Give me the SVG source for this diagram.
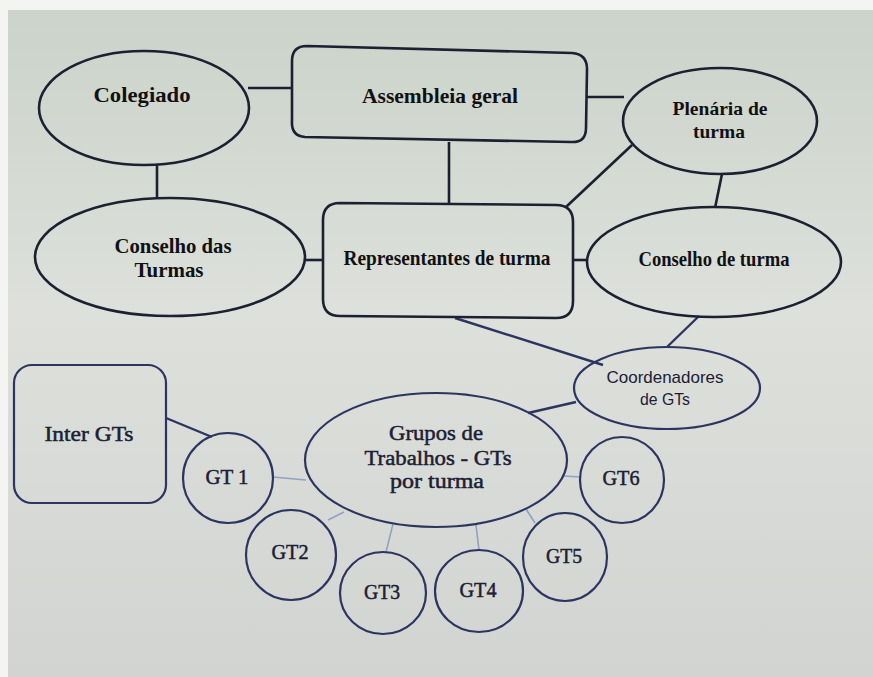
<svg xmlns="http://www.w3.org/2000/svg" width="873" height="677" viewBox="0 0 873 677">
<defs>
<linearGradient id="bg" x1="0" y1="0" x2="0" y2="1">
<stop offset="0" stop-color="#cbd3ca"/>
<stop offset="0.45" stop-color="#dde0db"/>
<stop offset="1" stop-color="#d2d4d1"/>
</linearGradient>
<style>
.top{fill:none;stroke:#1c2030;stroke-width:2.6}
.bot{fill:none;stroke:#2b3560;stroke-width:2.2}
.ln{stroke:#1c2030;stroke-width:2.6;fill:none}
.lnb{stroke:#2b3560;stroke-width:2.4;fill:none}
.lt{stroke:#8fa2c4;stroke-width:1.6;fill:none}
.tb{font-family:"Liberation Serif","Times New Roman",serif;font-weight:bold;font-size:22px;fill:#111;text-anchor:middle}
.sm{font-size:19px}
.tr{font-family:"Liberation Serif","Times New Roman",serif;font-size:22px;fill:#1b2035;stroke:#1b2035;stroke-width:0.5;text-anchor:middle}
.ts{font-family:"Liberation Sans",Arial,sans-serif;font-size:17px;fill:#1b2035;text-anchor:middle}
</style>
</defs>
<rect width="873" height="677" fill="#f4f5f3"/>
<rect x="8" y="10" width="865" height="667" fill="url(#bg)"/>

<g id="connectors">
<line class="ln" x1="248" y1="88" x2="292" y2="88"/>
<line class="ln" x1="587" y1="97" x2="624" y2="97"/>
<line class="ln" x1="449" y1="142" x2="449" y2="204"/>
<line class="ln" x1="157" y1="165" x2="157" y2="199"/>
<line class="ln" x1="632" y1="145" x2="566" y2="207"/>
<line class="ln" x1="722" y1="174" x2="715" y2="208"/>
<line class="ln" x1="305" y1="260" x2="323" y2="260"/>
<line class="ln" x1="573" y1="260" x2="588" y2="260"/>
<line class="lnb" x1="455" y1="318" x2="603" y2="365"/>
<line class="lnb" x1="699" y1="316" x2="667" y2="347"/>
<line class="lnb" x1="576" y1="402" x2="528" y2="413"/>
<line class="lnb" x1="166" y1="418" x2="212" y2="437"/>
<line class="lt" x1="273" y1="477" x2="306" y2="480"/>
<line class="lt" x1="328" y1="520" x2="344" y2="512"/>
<line class="lt" x1="386" y1="552" x2="393" y2="524"/>
<line class="lt" x1="479" y1="550" x2="476" y2="525"/>
<line class="lt" x1="535" y1="523" x2="526" y2="509"/>
<line class="lt" x1="581" y1="477" x2="563" y2="476"/>
</g>

<g id="colegiado">
<ellipse class="top" cx="144" cy="108" rx="105" ry="57"/>
<text class="tb" x="142" y="102" textLength="97" lengthAdjust="spacingAndGlyphs">Colegiado</text>
</g>

<g id="assembleia">
<path class="top" d="M307 46 L572 53 Q587 54 587 69 L586 128 Q586 143 571 142 L305 137 Q291 136 292 121 L292 61 Q292 46 307 46 Z"/>
<text class="tb" x="440" y="103" textLength="156" lengthAdjust="spacingAndGlyphs">Assembleia geral</text>
</g>

<g id="plenaria">
<ellipse class="top" cx="720" cy="121" rx="97" ry="53"/>
<text class="tb sm" x="720" y="115" textLength="95" lengthAdjust="spacingAndGlyphs">Plenária de</text>
<text class="tb sm" x="719" y="138" textLength="52" lengthAdjust="spacingAndGlyphs">turma</text>
</g>

<g id="conselho-das-turmas">
<ellipse class="top" cx="170" cy="257" rx="135" ry="59"/>
<text class="tb" x="173" y="253" textLength="117" lengthAdjust="spacingAndGlyphs">Conselho das</text>
<text class="tb" x="169" y="277" textLength="69" lengthAdjust="spacingAndGlyphs">Turmas</text>
</g>

<g id="representantes">
<path class="top" d="M340 203 L556 205 Q573 205 573 222 L573 301 Q573 318 556 318 L340 316 Q323 316 323 299 L323 220 Q323 203 340 203 Z"/>
<text class="tb" x="447" y="265" textLength="207" lengthAdjust="spacingAndGlyphs">Representantes de turma</text>
</g>

<g id="conselho-de-turma">
<ellipse class="top" cx="714" cy="262" rx="127" ry="55"/>
<text class="tb" x="714" y="266" textLength="151" lengthAdjust="spacingAndGlyphs">Conselho de turma</text>
</g>

<g id="coordenadores">
<ellipse class="bot" cx="667" cy="388" rx="93" ry="41"/>
<text class="ts" x="665" y="383" textLength="117" lengthAdjust="spacingAndGlyphs">Coordenadores</text>
<text class="ts" x="665" y="405" textLength="50" lengthAdjust="spacingAndGlyphs">de GTs</text>
</g>

<g id="inter-gts">
<rect class="bot" x="14" y="365" width="152" height="138" rx="18"/>
<text class="tr" x="89" y="441" textLength="89" lengthAdjust="spacingAndGlyphs">Inter GTs</text>
</g>

<g id="grupos">
<ellipse class="bot" cx="436" cy="460" rx="131" ry="67"/>
<text class="tr" x="436" y="440" textLength="94" lengthAdjust="spacingAndGlyphs">Grupos de</text>
<text class="tr" x="438" y="465" textLength="147" lengthAdjust="spacingAndGlyphs">Trabalhos - GTs</text>
<text class="tr" x="437" y="488" textLength="94" lengthAdjust="spacingAndGlyphs">por turma</text>
</g>

<g id="gt1">
<ellipse class="bot" cx="228" cy="478" rx="45" ry="45"/>
<text class="tr" x="227" y="484" textLength="43" lengthAdjust="spacingAndGlyphs">GT 1</text>
</g>
<g id="gt2">
<ellipse class="bot" cx="291" cy="555" rx="45" ry="45"/>
<text class="tr" x="290" y="559" textLength="37" lengthAdjust="spacingAndGlyphs">GT2</text>
</g>
<g id="gt3">
<ellipse class="bot" cx="383" cy="593" rx="43" ry="41"/>
<text class="tr" x="382" y="599" textLength="36" lengthAdjust="spacingAndGlyphs">GT3</text>
</g>
<g id="gt4">
<ellipse class="bot" cx="479" cy="591" rx="44" ry="41"/>
<text class="tr" x="478" y="597" textLength="37" lengthAdjust="spacingAndGlyphs">GT4</text>
</g>
<g id="gt5">
<ellipse class="bot" cx="565" cy="557" rx="42" ry="44"/>
<text class="tr" x="564" y="563" textLength="36" lengthAdjust="spacingAndGlyphs">GT5</text>
</g>
<g id="gt6">
<ellipse class="bot" cx="622" cy="480" rx="42" ry="43"/>
<text class="tr" x="621" y="485" textLength="37" lengthAdjust="spacingAndGlyphs">GT6</text>
</g>
</svg>
